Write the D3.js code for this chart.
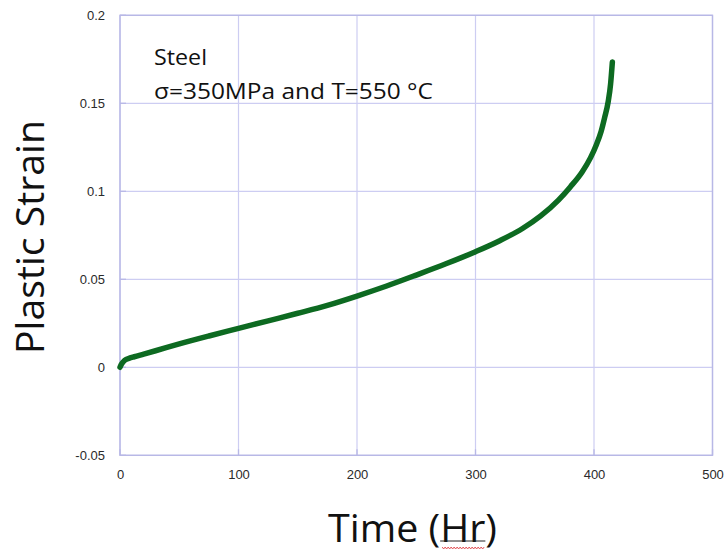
<!DOCTYPE html>
<html>
<head>
<meta charset="utf-8">
<script src="https://cdn.jsdelivr.net/npm/d3@7/dist/d3.min.js"></script>
<style>
  html, body { margin: 0; padding: 0; background: #fff; }
  svg { display: block; }
</style>
</head>
<body>
<svg id="chart" width="724" height="555"></svg>
<script>
// Creep curve: plastic strain vs. time for steel at 350 MPa / 550 °C
const timeHr = [0, 1, 2, 4, 8, 12, 20, 30, 50, 75, 100, 125, 150, 175, 200, 225, 250, 275, 300,
                320, 340, 355, 370, 380, 390, 397, 402, 406, 409, 412, 414, 415.5];
const plasticStrain = [0, 0.0015, 0.0025, 0.004, 0.0052, 0.006, 0.0075, 0.0094, 0.0133, 0.0178,
                       0.0221, 0.0264, 0.0307, 0.0352, 0.0405, 0.0462, 0.0524, 0.0588, 0.0657,
                       0.0718, 0.0790, 0.0860, 0.0950, 0.1025, 0.1110, 0.1190, 0.1265, 0.1340,
                       0.1420, 0.1510, 0.1610, 0.1735];
const xTicks = [0, 100, 200, 300, 400, 500];
const yTicks = [-0.05, 0, 0.05, 0.1, 0.15, 0.2];
const yTickLabels = ["-0.05", "0", "0.05", "0.1", "0.15", "0.2"];
const noteLines = ["Steel", "σ=350MPa and T=550 °C"];

const svg = d3.select("#chart");
const plotLeft = 120, plotRight = 712.5, plotTop = 15.3, plotBottom = 455.3;

const x = d3.scaleLinear().domain([0, 500]).range([plotLeft, plotRight]);
const y = d3.scaleLinear().domain([-0.05, 0.2]).range([plotBottom, plotTop]);

const gridColor = "#cdcdf2";
const frameColor = "#b8b8e6";

// gridlines
svg.append("g").selectAll("line").data(xTicks).join("line")
  .attr("x1", d => x(d)).attr("x2", d => x(d))
  .attr("y1", plotTop).attr("y2", plotBottom)
  .attr("stroke", gridColor).attr("stroke-width", 1.2);
svg.append("g").selectAll("line").data(yTicks).join("line")
  .attr("x1", plotLeft).attr("x2", plotRight)
  .attr("y1", d => y(d)).attr("y2", d => y(d))
  .attr("stroke", gridColor).attr("stroke-width", 1.2);

// short inward tick marks
svg.append("g").selectAll("line").data(yTicks).join("line")
  .attr("x1", plotLeft).attr("x2", plotLeft + 6)
  .attr("y1", d => y(d)).attr("y2", d => y(d))
  .attr("stroke", frameColor).attr("stroke-width", 1.3);
svg.append("g").selectAll("line").data(xTicks).join("line")
  .attr("x1", d => x(d)).attr("x2", d => x(d))
  .attr("y1", plotBottom).attr("y2", plotBottom - 6)
  .attr("stroke", frameColor).attr("stroke-width", 1.3);

// frame
svg.append("rect")
  .attr("x", plotLeft).attr("y", plotTop)
  .attr("width", plotRight - plotLeft).attr("height", plotBottom - plotTop)
  .attr("fill", "none").attr("stroke", frameColor).attr("stroke-width", 1.4);

// tick labels via d3 axes, axis lines hidden
const yAxis = svg.append("g").attr("transform", `translate(${plotLeft},0)`)
  .call(d3.axisLeft(y).tickValues(yTicks).tickSize(0).tickPadding(15)
        .tickFormat((d, i) => yTickLabels[i]));
const xAxis = svg.append("g").attr("transform", `translate(0,${plotBottom})`)
  .call(d3.axisBottom(x).tickValues(xTicks).tickSize(0).tickPadding(14)
        .tickFormat(d3.format("d")));
[yAxis, xAxis].forEach(g => {
  g.select(".domain").remove();
  g.selectAll("text")
    .attr("font-family", "Liberation Sans, Arial, sans-serif")
    .attr("font-size", 13)
    .attr("fill", "#2a2a2a");
});

// curve
const line = d3.line()
  .x((d, i) => x(timeHr[i]))
  .y(d => y(d))
  .curve(d3.curveMonotoneX);
svg.append("path")
  .datum(plasticStrain)
  .attr("d", line)
  .attr("fill", "none")
  .attr("stroke", "#0d6a21")
  .attr("stroke-width", 5.5)
  .attr("stroke-linecap", "round")
  .attr("stroke-linejoin", "round");

// annotation
const font = "Open Sans, Lato, sans-serif";
svg.append("text").attr("x", 154).attr("y", 65)
  .attr("font-family", font).attr("font-size", 22).attr("fill", "#111")
  .attr("textLength", 53).attr("lengthAdjust", "spacingAndGlyphs")
  .text(noteLines[0]);
svg.append("text").attr("x", 154).attr("y", 98.5)
  .attr("font-family", font).attr("font-size", 22).attr("fill", "#111")
  .attr("textLength", 279).attr("lengthAdjust", "spacingAndGlyphs")
  .text(noteLines[1]);

// axis titles
svg.append("text")
  .attr("transform", "translate(44,237) rotate(-90)")
  .attr("text-anchor", "middle")
  .attr("font-family", font).attr("font-size", 39).attr("fill", "#111")
  .attr("textLength", 234).attr("lengthAdjust", "spacingAndGlyphs")
  .text("Plastic Strain");

const xTitle = svg.append("text")
  .attr("x", 328).attr("y", 542)
  .attr("font-family", font).attr("font-size", 38).attr("fill", "#111")
  .attr("textLength", 169).attr("lengthAdjust", "spacingAndGlyphs");
xTitle.append("tspan").text("Time (");
const hr = xTitle.append("tspan").text("Hr");
xTitle.append("tspan").text(")");

// underline and spell-check squiggle below "Hr"
const hb = hr.node().getBBox();
svg.append("line")
  .attr("x1", hb.x).attr("x2", hb.x + hb.width)
  .attr("y1", 541).attr("y2", 541)
  .attr("stroke", "#222").attr("stroke-width", 1);
const waveX = d3.range(hb.x + 2, hb.x + hb.width, 1.5);
svg.append("path")
  .attr("d", d3.line()(waveX.map((wx, i) => [wx, 548 + (i % 2 ? 1 : -1)])))
  .attr("fill", "none").attr("stroke", "#e0474c").attr("stroke-width", 0.9);
</script>
</body>
</html>
